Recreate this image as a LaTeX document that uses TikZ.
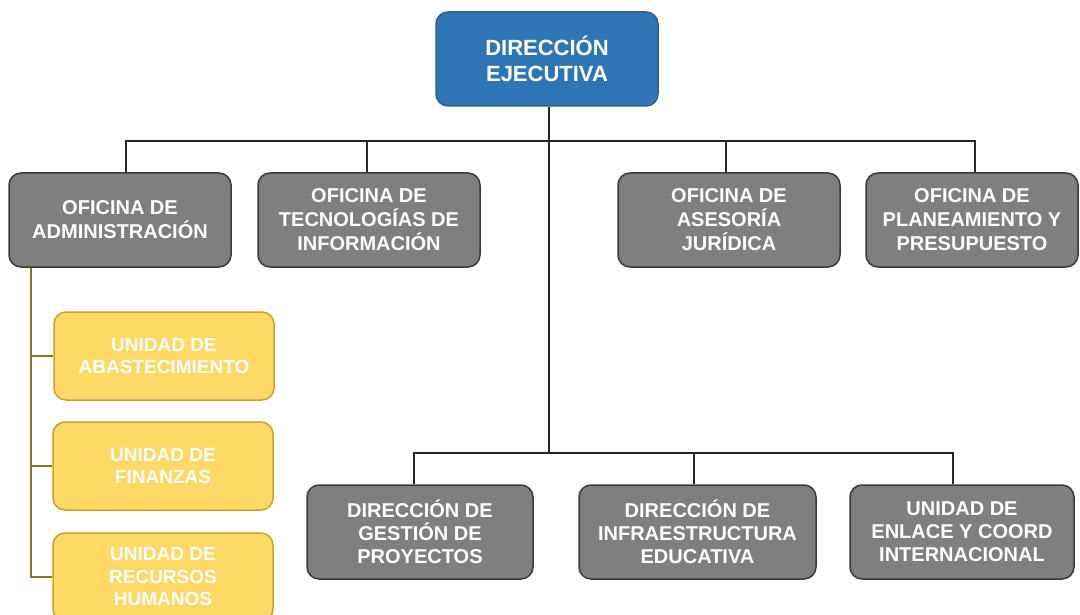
\documentclass[tikz,border=0pt]{standalone}
\usepackage{fontspec}
\setmainfont{Liberation Sans}
\definecolor{topblue}{HTML}{2E75B6}
\definecolor{topborder}{HTML}{2E5F8C}
\definecolor{grayfill}{HTML}{7F7F7F}
\definecolor{grayborder}{HTML}{3A3A3A}
\definecolor{yfill}{HTML}{FFD966}
\definecolor{yborder}{HTML}{C9A227}
\definecolor{yline}{HTML}{8C7325}
\tikzset{
  box/.style={rounded corners=12pt, line width=1.5pt, inner sep=0pt, align=center,
    text=white, font=\bfseries},
  topbox/.style={box, fill=topblue, draw=topborder, minimum width=222pt, minimum height=94pt,
    font=\fontsize{22}{25.5}\selectfont\bfseries},
  graybox/.style={box, fill=grayfill, draw=grayborder, minimum width=222pt, minimum height=94pt,
    font=\fontsize{20}{24}\selectfont\bfseries},
  botbox/.style={box, fill=grayfill, draw=grayborder, minimum height=94pt,
    font=\fontsize{20}{23}\selectfont\bfseries},
  ybox/.style={box, fill=yfill, draw=yborder, minimum width=220pt, minimum height=88pt,
    font=\fontsize{19}{22.5}\selectfont\bfseries},
  conn/.style={draw=black!85, line width=1.5pt},
  yconn/.style={draw=yline, line width=1.8pt}
}
\begin{document}
\begin{tikzpicture}[x=1pt,y=-1pt]
\useasboundingbox (0,0) rectangle (1080,615);
\clip (0,0) rectangle (1080,615);
\coordinate (hA) at (0,141);
\coordinate (hB) at (0,453);
\coordinate (vY) at (31,0);
\node[topbox] (top) at (547,59) {DIRECCIÓN\\EJECUTIVA};
\node[graybox] (oa) at (120,220) {OFICINA DE\\ADMINISTRACIÓN};
\node[graybox] (oti) at (369,220) {OFICINA DE\\TECNOLOGÍAS DE\\INFORMACIÓN};
\node[graybox] (oaj) at (729,220) {OFICINA DE\\ASESORÍA\\JURÍDICA};
\node[graybox, minimum width=212pt] (opp) at (972,220) {OFICINA DE\\PLANEAMIENTO Y\\PRESUPUESTO};
\node[botbox, minimum width=226pt] (dgp) at (420,532) {DIRECCIÓN DE\\GESTIÓN DE\\PROYECTOS};
\node[botbox, minimum width=237pt] (die) at (697.5,532) {DIRECCIÓN DE\\INFRAESTRUCTURA\\EDUCATIVA};
\node[botbox, minimum width=224pt] (uec) at (962,532) {UNIDAD DE\\ENLACE Y COORD\\INTERNACIONAL};
\node[ybox] (ua) at (164,356) {UNIDAD DE\\ABASTECIMIENTO};
\node[ybox] (uf) at (163,466) {UNIDAD DE\\FINANZAS};
\node[ybox] (urh) at (163,577) {UNIDAD DE\\RECURSOS\\HUMANOS};
% connectors
\draw[conn] ([xshift=6pt]oa.north) |- ([xshift=3pt]opp.north |- hA) -- ([xshift=3pt]opp.north);
\draw[conn] ([xshift=-2pt]oti.north) -- ([xshift=-2pt]oti.north |- hA);
\draw[conn] ([xshift=-3pt]oaj.north) -- ([xshift=-3pt]oaj.north |- hA);
\draw[conn] ([xshift=2pt]top.south) -- ([xshift=2pt]top.south |- hB);
\draw[conn] ([xshift=-6pt]dgp.north) |- ([xshift=-9pt]uec.north |- hB) -- ([xshift=-9pt]uec.north);
\draw[conn] ([xshift=-3.5pt]die.north) -- ([xshift=-3.5pt]die.north |- hB);
\draw[yconn] (vY |- oa.south) |- (urh.west);
\draw[yconn] (vY |- ua.west) -- (ua.west);
\draw[yconn] (vY |- uf.west) -- (uf.west);
\end{tikzpicture}
\end{document}
